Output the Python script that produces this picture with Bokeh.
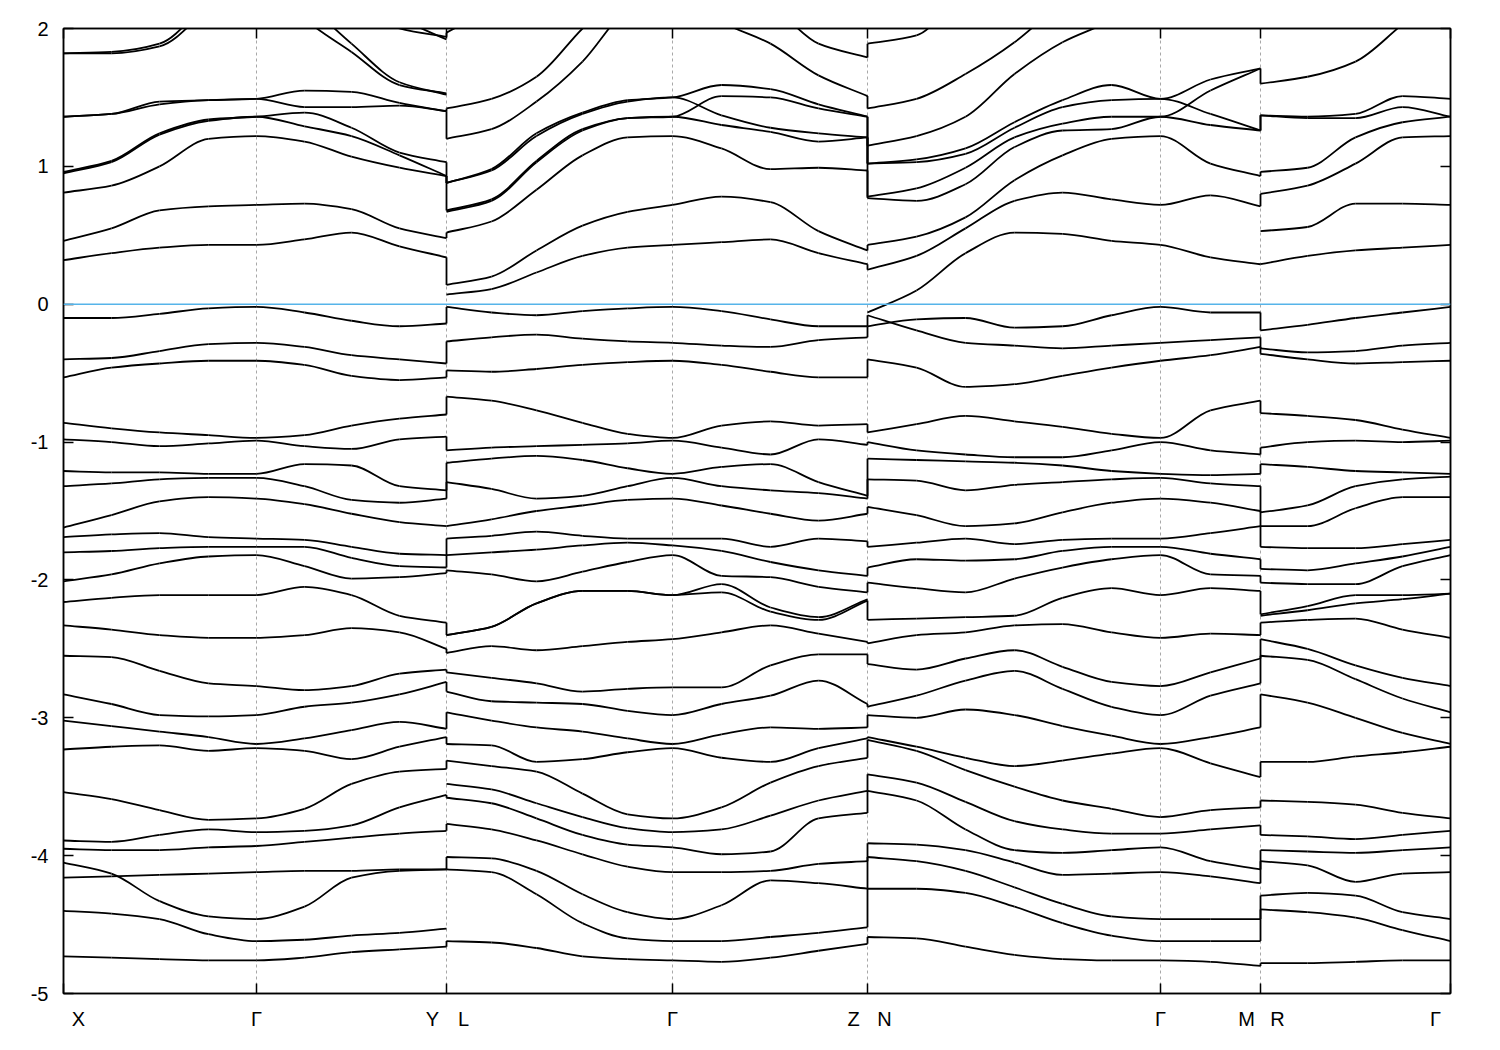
from bokeh.plotting import figure
from bokeh.models import Range1d, FixedTicker, LinearAxis, Span, ColumnDataSource
from bokeh.embed import file_html
from bokeh.resources import INLINE

# ---------------- data ----------------
# high-symmetry points along the k-path (path length, arbitrary units)
hs_k = [0, 193, 383, 609, 804, 1097, 1197, 1387]
hs_names = ["X", "Γ", "Y|L", "Γ", "Z|N", "Γ", "M|R", "Γ"]

y_ticks = [-5, -4, -3, -2, -1, 0, 1, 2]
y_tick_labels = ["-5", "-4", "-3", "-2", "-1", "0", "1", "2"]

# section X - Γ - Y
kA = [0, 48, 96, 145, 193, 241, 288, 336, 383]
bandsA = [
    [1.82, 1.82, 1.87, 2.15, 2.45, 2.07, 1.83, 1.59, 1.53],
    [1.82, 1.83, 1.89, 2.20, 2.50, 2.20, 1.89, 1.61, 1.52],
    [2.60, 2.60, 2.60, 2.60, 2.60, 2.50, 2.25, 2.00, 1.94],
    [2.70, 2.70, 2.70, 2.70, 2.70, 2.60, 2.35, 2.08, 1.92],
    [1.36, 1.38, 1.47, 1.48, 1.49, 1.55, 1.54, 1.46, 1.40],
    [1.36, 1.38, 1.45, 1.48, 1.49, 1.43, 1.43, 1.44, 1.40],
    [0.96, 1.04, 1.24, 1.34, 1.36, 1.39, 1.28, 1.10, 1.03],
    [0.95, 1.03, 1.23, 1.33, 1.36, 1.29, 1.22, 1.08, 0.93],
    [0.81, 0.86, 1.00, 1.20, 1.22, 1.18, 1.07, 0.99, 0.93],
    [0.46, 0.55, 0.68, 0.71, 0.72, 0.73, 0.69, 0.55, 0.48],
    [0.32, 0.37, 0.41, 0.43, 0.43, 0.47, 0.52, 0.42, 0.34],
    [-0.10, -0.10, -0.07, -0.03, -0.02, -0.06, -0.12, -0.16, -0.14],
    [-0.40, -0.39, -0.34, -0.29, -0.28, -0.31, -0.37, -0.40, -0.43],
    [-0.53, -0.46, -0.43, -0.41, -0.41, -0.44, -0.52, -0.55, -0.53],
    [-0.86, -0.90, -0.93, -0.95, -0.97, -0.95, -0.88, -0.83, -0.80],
    [-0.98, -1.00, -1.03, -1.01, -0.99, -1.03, -1.05, -0.98, -0.96],
    [-1.21, -1.22, -1.22, -1.23, -1.23, -1.16, -1.17, -1.32, -1.35],
    [-1.32, -1.30, -1.27, -1.26, -1.26, -1.32, -1.42, -1.44, -1.41],
    [-1.62, -1.53, -1.43, -1.40, -1.41, -1.45, -1.52, -1.58, -1.61],
    [-1.69, -1.67, -1.66, -1.69, -1.70, -1.71, -1.76, -1.81, -1.82],
    [-1.80, -1.79, -1.77, -1.76, -1.76, -1.76, -1.84, -1.90, -1.91],
    [-2.01, -1.96, -1.88, -1.83, -1.82, -1.90, -1.99, -1.98, -1.95],
    [-2.16, -2.13, -2.11, -2.11, -2.11, -2.05, -2.11, -2.26, -2.31],
    [-2.33, -2.36, -2.40, -2.42, -2.42, -2.40, -2.35, -2.38, -2.50],
    [-2.55, -2.56, -2.66, -2.75, -2.77, -2.80, -2.77, -2.68, -2.65],
    [-2.83, -2.90, -2.98, -2.99, -2.98, -2.92, -2.89, -2.83, -2.74],
    [-3.02, -3.06, -3.10, -3.14, -3.19, -3.15, -3.09, -3.03, -3.08],
    [-3.23, -3.21, -3.20, -3.24, -3.22, -3.24, -3.30, -3.21, -3.14],
    [-3.54, -3.59, -3.67, -3.74, -3.73, -3.66, -3.48, -3.39, -3.37],
    [-3.89, -3.90, -3.85, -3.81, -3.83, -3.82, -3.78, -3.65, -3.56],
    [-3.95, -3.96, -3.96, -3.94, -3.93, -3.90, -3.87, -3.84, -3.82],
    [-4.05, -4.13, -4.33, -4.44, -4.46, -4.37, -4.16, -4.11, -4.10],
    [-4.16, -4.15, -4.14, -4.13, -4.12, -4.11, -4.11, -4.10, -4.10],
    [-4.40, -4.42, -4.46, -4.57, -4.62, -4.61, -4.58, -4.56, -4.53],
    [-4.73, -4.74, -4.75, -4.76, -4.76, -4.74, -4.70, -4.68, -4.66],
]

# section L - Γ - Z
kB = [383, 428, 473, 519, 564, 609, 658, 707, 755, 804]
bandsB = [
    [1.97, 2.15, 2.40, 2.60, 2.70, 2.80, 2.70, 2.60, 2.50, 2.40],
    [1.42, 1.49, 1.65, 2.00, 2.30, 2.50, 2.40, 2.18, 1.89, 1.79],
    [1.20, 1.27, 1.47, 1.76, 2.15, 2.35, 2.05, 1.89, 1.66, 1.51],
    [0.88, 0.98, 1.24, 1.39, 1.48, 1.50, 1.59, 1.56, 1.45, 1.36],
    [0.88, 0.97, 1.22, 1.38, 1.47, 1.50, 1.37, 1.28, 1.24, 1.21],
    [0.68, 0.76, 1.04, 1.27, 1.35, 1.36, 1.51, 1.50, 1.42, 1.36],
    [0.67, 0.75, 1.03, 1.26, 1.35, 1.36, 1.30, 1.25, 1.18, 1.21],
    [0.52, 0.60, 0.83, 1.08, 1.21, 1.22, 1.13, 0.98, 0.99, 0.97],
    [0.14, 0.20, 0.39, 0.57, 0.67, 0.72, 0.78, 0.74, 0.53, 0.39],
    [0.07, 0.11, 0.23, 0.35, 0.41, 0.43, 0.45, 0.47, 0.37, 0.29],
    [-0.02, -0.06, -0.08, -0.05, -0.03, -0.02, -0.05, -0.11, -0.16, -0.16],
    [-0.27, -0.24, -0.22, -0.25, -0.27, -0.28, -0.30, -0.31, -0.26, -0.24],
    [-0.48, -0.49, -0.47, -0.44, -0.42, -0.41, -0.44, -0.49, -0.53, -0.53],
    [-0.67, -0.70, -0.77, -0.86, -0.94, -0.97, -0.88, -0.85, -0.88, -0.87],
    [-1.06, -1.04, -1.03, -1.02, -1.01, -0.99, -1.04, -1.09, -0.98, -1.02],
    [-1.15, -1.12, -1.10, -1.13, -1.19, -1.23, -1.18, -1.16, -1.29, -1.39],
    [-1.29, -1.34, -1.41, -1.39, -1.32, -1.26, -1.32, -1.35, -1.37, -1.41],
    [-1.61, -1.56, -1.50, -1.46, -1.42, -1.41, -1.46, -1.52, -1.57, -1.52],
    [-1.70, -1.68, -1.65, -1.68, -1.70, -1.70, -1.70, -1.76, -1.70, -1.72],
    [-1.82, -1.80, -1.78, -1.75, -1.73, -1.75, -1.79, -1.87, -1.93, -1.97],
    [-1.93, -1.96, -2.01, -1.94, -1.87, -1.82, -1.97, -1.98, -2.05, -2.09],
    [-2.40, -2.34, -2.17, -2.08, -2.08, -2.11, -2.03, -2.20, -2.27, -2.14],
    [-2.40, -2.34, -2.17, -2.08, -2.08, -2.11, -2.09, -2.23, -2.29, -2.15],
    [-2.53, -2.48, -2.51, -2.48, -2.45, -2.43, -2.38, -2.33, -2.39, -2.45],
    [-2.67, -2.71, -2.75, -2.81, -2.79, -2.78, -2.78, -2.62, -2.54, -2.54],
    [-2.81, -2.88, -2.89, -2.90, -2.95, -2.98, -2.90, -2.84, -2.73, -2.90],
    [-2.96, -3.02, -3.07, -3.10, -3.15, -3.19, -3.12, -3.07, -3.08, -3.07],
    [-3.19, -3.20, -3.32, -3.30, -3.25, -3.22, -3.29, -3.32, -3.22, -3.15],
    [-3.31, -3.35, -3.39, -3.55, -3.70, -3.73, -3.65, -3.47, -3.35, -3.29],
    [-3.48, -3.52, -3.62, -3.72, -3.80, -3.83, -3.81, -3.71, -3.60, -3.53],
    [-3.58, -3.62, -3.73, -3.85, -3.92, -3.94, -3.99, -3.97, -3.73, -3.69],
    [-3.77, -3.81, -3.89, -3.99, -4.08, -4.12, -4.12, -4.11, -4.06, -4.04],
    [-4.01, -4.02, -4.11, -4.28, -4.41, -4.46, -4.36, -4.18, -4.20, -4.24],
    [-4.10, -4.12, -4.28, -4.49, -4.60, -4.62, -4.62, -4.59, -4.56, -4.52],
    [-4.62, -4.63, -4.67, -4.73, -4.75, -4.76, -4.77, -4.74, -4.69, -4.64],
]

# section N - Γ - M
kC = [804, 853, 902, 951, 999, 1048, 1097, 1147, 1197]
bandsC = [
    [1.89, 1.95, 2.30, 2.60, 2.80, 3.00, 3.00, 3.00, 3.00],
    [1.42, 1.49, 1.67, 1.90, 2.20, 2.50, 2.70, 2.80, 2.90],
    [1.15, 1.22, 1.36, 1.67, 1.90, 2.06, 2.30, 2.50, 2.60],
    [1.02, 1.05, 1.13, 1.32, 1.48, 1.59, 1.49, 1.63, 1.71],
    [1.02, 1.03, 1.09, 1.28, 1.43, 1.48, 1.49, 1.38, 1.26],
    [0.78, 0.84, 0.99, 1.21, 1.31, 1.36, 1.36, 1.55, 1.71],
    [0.77, 0.75, 0.87, 1.14, 1.26, 1.27, 1.36, 1.30, 1.26],
    [0.43, 0.49, 0.63, 0.90, 1.08, 1.20, 1.22, 1.02, 0.93],
    [0.25, 0.35, 0.55, 0.75, 0.81, 0.76, 0.72, 0.79, 0.71],
    [-0.06, 0.10, 0.37, 0.52, 0.51, 0.46, 0.43, 0.34, 0.29],
    [-0.16, -0.11, -0.10, -0.17, -0.16, -0.08, -0.02, -0.06, -0.06],
    [-0.08, -0.19, -0.28, -0.30, -0.32, -0.30, -0.28, -0.26, -0.24],
    [-0.40, -0.46, -0.60, -0.58, -0.52, -0.46, -0.41, -0.37, -0.31],
    [-0.93, -0.87, -0.81, -0.85, -0.89, -0.94, -0.97, -0.77, -0.70],
    [-1.00, -1.06, -1.09, -1.11, -1.11, -1.06, -1.00, -1.06, -1.09],
    [-1.12, -1.13, -1.14, -1.15, -1.17, -1.21, -1.23, -1.24, -1.23],
    [-1.27, -1.28, -1.35, -1.31, -1.29, -1.27, -1.26, -1.30, -1.32],
    [-1.47, -1.53, -1.61, -1.59, -1.51, -1.44, -1.41, -1.44, -1.50],
    [-1.76, -1.73, -1.70, -1.74, -1.71, -1.70, -1.70, -1.66, -1.61],
    [-1.91, -1.85, -1.86, -1.85, -1.79, -1.76, -1.76, -1.81, -1.85],
    [-2.02, -2.06, -2.09, -1.99, -1.91, -1.85, -1.82, -1.96, -1.97],
    [-2.29, -2.28, -2.27, -2.26, -2.13, -2.06, -2.11, -2.06, -2.08],
    [-2.46, -2.40, -2.38, -2.33, -2.32, -2.38, -2.42, -2.39, -2.40],
    [-2.61, -2.65, -2.57, -2.51, -2.63, -2.74, -2.77, -2.67, -2.57],
    [-2.92, -2.84, -2.73, -2.66, -2.79, -2.92, -2.98, -2.84, -2.75],
    [-2.98, -3.00, -2.94, -2.98, -3.06, -3.13, -3.19, -3.14, -3.07],
    [-3.14, -3.21, -3.29, -3.35, -3.31, -3.26, -3.22, -3.33, -3.43],
    [-3.16, -3.24, -3.38, -3.50, -3.60, -3.66, -3.72, -3.67, -3.65],
    [-3.41, -3.47, -3.61, -3.75, -3.81, -3.84, -3.84, -3.81, -3.78],
    [-3.53, -3.60, -3.81, -3.96, -3.98, -3.96, -3.94, -4.04, -4.10],
    [-3.91, -3.92, -3.96, -4.05, -4.14, -4.13, -4.12, -4.15, -4.20],
    [-4.01, -4.04, -4.11, -4.23, -4.35, -4.44, -4.46, -4.46, -4.46],
    [-4.24, -4.24, -4.27, -4.37, -4.49, -4.58, -4.62, -4.62, -4.62],
    [-4.59, -4.60, -4.66, -4.72, -4.75, -4.76, -4.76, -4.77, -4.80],
]

# section R - Γ
kD = [1197, 1244, 1292, 1339, 1387]
bandsD = [
    [1.60, 1.65, 1.76, 2.03, 2.30],
    [1.37, 1.36, 1.38, 1.51, 1.49],
    [1.37, 1.35, 1.35, 1.43, 1.36],
    [0.96, 0.99, 1.21, 1.32, 1.36],
    [0.80, 0.86, 1.02, 1.21, 1.22],
    [0.53, 0.56, 0.73, 0.73, 0.72],
    [0.29, 0.35, 0.39, 0.41, 0.43],
    [-0.19, -0.15, -0.10, -0.06, -0.02],
    [-0.32, -0.35, -0.34, -0.30, -0.28],
    [-0.36, -0.40, -0.43, -0.42, -0.41],
    [-0.79, -0.81, -0.84, -0.91, -0.97],
    [-1.04, -1.00, -0.99, -1.00, -0.99],
    [-1.16, -1.18, -1.21, -1.22, -1.23],
    [-1.51, -1.46, -1.32, -1.27, -1.25],
    [-1.61, -1.61, -1.48, -1.40, -1.40],
    [-1.76, -1.77, -1.77, -1.74, -1.71],
    [-1.92, -1.93, -1.88, -1.83, -1.76],
    [-2.02, -2.03, -2.03, -1.90, -1.82],
    [-2.25, -2.19, -2.11, -2.11, -2.10],
    [-2.26, -2.22, -2.17, -2.14, -2.10],
    [-2.31, -2.29, -2.28, -2.36, -2.42],
    [-2.43, -2.50, -2.62, -2.71, -2.77],
    [-2.55, -2.58, -2.72, -2.86, -2.96],
    [-2.83, -2.89, -3.00, -3.11, -3.19],
    [-3.32, -3.32, -3.28, -3.25, -3.21],
    [-3.60, -3.61, -3.63, -3.69, -3.73],
    [-3.85, -3.86, -3.88, -3.85, -3.82],
    [-3.96, -3.97, -3.98, -3.96, -3.94],
    [-4.04, -4.07, -4.19, -4.13, -4.12],
    [-4.29, -4.27, -4.29, -4.41, -4.46],
    [-4.39, -4.41, -4.45, -4.54, -4.62],
    [-4.78, -4.78, -4.77, -4.76, -4.76],
]

sections = [(kA, bandsA), (kB, bandsB), (kC, bandsC), (kD, bandsD)]


# ---------------- helpers ----------------
def pchip_slopes(x, y):
    """Shape-preserving (monotone cubic) tangents at the read points."""
    n = len(x)
    h = [x[i + 1] - x[i] for i in range(n - 1)]
    d = [(y[i + 1] - y[i]) / h[i] for i in range(n - 1)]
    m = [0.0] * n
    for i in range(1, n - 1):
        if d[i - 1] * d[i] <= 0:
            m[i] = 0.0
        else:
            w1 = 2 * h[i] + h[i - 1]
            w2 = h[i] + 2 * h[i - 1]
            m[i] = (w1 + w2) / (w1 / d[i - 1] + w2 / d[i])
    m[0] = d[0]
    m[-1] = d[-1]
    return m


def match_jump(a, b, skip=0.35):
    """Pair energies on both sides of a path discontinuity (monotone alignment)."""
    a = sorted(a)
    b = sorted(b)
    n, m = len(a), len(b)
    INF = 1e18
    dp = [[INF] * (m + 1) for _ in range(n + 1)]
    bt = [[None] * (m + 1) for _ in range(n + 1)]
    dp[0][0] = 0.0
    for i in range(n + 1):
        for j in range(m + 1):
            if i == 0 and j == 0:
                continue
            best, mv = INF, None
            if i > 0 and j > 0:
                c = dp[i - 1][j - 1] + abs(a[i - 1] - b[j - 1])
                if c < best:
                    best, mv = c, "d"
            if i > 0:
                c = dp[i - 1][j] + skip
                if c < best:
                    best, mv = c, "a"
            if j > 0:
                c = dp[i][j - 1] + skip
                if c < best:
                    best, mv = c, "b"
            dp[i][j], bt[i][j] = best, mv
    pairs = []
    i, j = n, m
    while i > 0 or j > 0:
        mv = bt[i][j]
        if mv == "d":
            pairs.append((a[i - 1], b[j - 1]))
            i, j = i - 1, j - 1
        elif mv == "a":
            i -= 1
        else:
            j -= 1
    return pairs


# ---------------- figure ----------------
p = figure(
    width=1488, height=1048,
    x_range=Range1d(hs_k[0], hs_k[-1]), y_range=Range1d(-5, 2),
    output_backend="svg", toolbar_location=None,
    min_border_left=63, min_border_right=38, min_border_top=28, min_border_bottom=55,
)
p.grid.visible = False
p.outline_line_color = "black"
p.outline_line_width = 1.5
p.background_fill_color = "white"
p.border_fill_color = "white"

FONT = "Liberation Sans"
FS = "20px"
LW = 1.8

# dotted vertical guides at interior high-symmetry points
for k in hs_k[1:-1]:
    p.add_layout(Span(location=k, dimension="height", line_color="#a8a8a8",
                      line_dash="3 3", line_width=1, level="underlay"))

# bands: smooth cubic curves through the read points
bx0, by0, bx1, by1, bcx0, bcy0, bcx1, bcy1 = ([] for _ in range(8))
for kk, bands in sections:
    for b in bands:
        m = pchip_slopes(kk, b)
        for i in range(len(kk) - 1):
            h = kk[i + 1] - kk[i]
            bx0.append(kk[i]); by0.append(b[i])
            bx1.append(kk[i + 1]); by1.append(b[i + 1])
            bcx0.append(kk[i] + h / 3.0); bcy0.append(b[i] + m[i] * h / 3.0)
            bcx1.append(kk[i + 1] - h / 3.0); bcy1.append(b[i + 1] - m[i + 1] * h / 3.0)
p.bezier(x0="x0", y0="y0", x1="x1", y1="y1", cx0="cx0", cy0="cy0", cx1="cx1", cy1="cy1",
         source=ColumnDataSource(dict(x0=bx0, y0=by0, x1=bx1, y1=by1,
                                      cx0=bcx0, cy0=bcy0, cx1=bcx1, cy1=bcy1)),
         line_color="black", line_width=LW)

# vertical jumps at the discontinuities
jx0, jy0, jy1 = [], [], []
for (ka, ba), (kb, bb) in zip(sections[:-1], sections[1:]):
    left = [r[-1] for r in ba]
    right = [r[0] for r in bb]
    for e1, e2 in match_jump(left, right):
        if abs(e1 - e2) > 1e-9:
            jx0.append(ka[-1])
            jy0.append(e1)
            jy1.append(e2)
p.segment(x0=jx0, y0=jy0, x1=jx0, y1=jy1, line_color="black", line_width=LW)

# Fermi level
p.add_layout(Span(location=0, dimension="width", line_color="#56b4e9", line_width=1.6))

# ---- axes ----
lab_pos, lab_txt = [], []
n_hs = len(hs_k)
for i, (k, name) in enumerate(zip(hs_k, hs_names)):
    if "|" in name:
        l, r = name.split("|")
        lab_pos += [k - 14, k + 17]
        lab_txt += [l, r]
    elif i == 0:
        lab_pos.append(k + 15)
        lab_txt.append(name)
    elif i == n_hs - 1:
        lab_pos.append(k - 15)
        lab_txt.append(name)
    else:
        lab_pos.append(k)
        lab_txt.append(name)

xa = p.xaxis[0]
xa.ticker = FixedTicker(ticks=lab_pos, minor_ticks=hs_k)
xa.major_label_overrides = {pos: t for pos, t in zip(lab_pos, lab_txt)}
xa.major_tick_in = 0
xa.major_tick_out = 0
xa.minor_tick_in = 10
xa.minor_tick_out = 0
xa.minor_tick_line_color = "black"
xa.minor_tick_line_width = 1.5
xa.axis_line_width = 1.5
xa.major_label_standoff = 14
xa.major_label_text_font = FONT
xa.major_label_text_font_size = FS
xa.major_label_text_color = "black"

ya = p.yaxis[0]
ya.ticker = FixedTicker(ticks=y_ticks, minor_ticks=[])
ya.major_label_overrides = {t: s for t, s in zip(y_ticks, y_tick_labels)}
ya.major_tick_in = 10
ya.major_tick_out = 0
ya.minor_tick_in = 0
ya.minor_tick_out = 0
ya.major_tick_line_width = 1.5
ya.axis_line_width = 1.5
ya.major_label_standoff = 15
ya.major_label_text_font = FONT
ya.major_label_text_font_size = FS
ya.major_label_text_color = "black"

top = LinearAxis(ticker=FixedTicker(ticks=hs_k, minor_ticks=[]))
right = LinearAxis(ticker=FixedTicker(ticks=y_ticks, minor_ticks=[]))
for ax in (top, right):
    ax.major_tick_in = 10
    ax.major_tick_out = 0
    ax.minor_tick_in = 0
    ax.minor_tick_out = 0
    ax.major_tick_line_width = 1.5
    ax.axis_line_width = 1.5
    ax.major_label_text_font_size = "0px"
    ax.major_label_text_color = None
    ax.major_label_standoff = 0
p.add_layout(top, "above")
p.add_layout(right, "right")

open("out.html", "w").write(file_html(p, INLINE))
